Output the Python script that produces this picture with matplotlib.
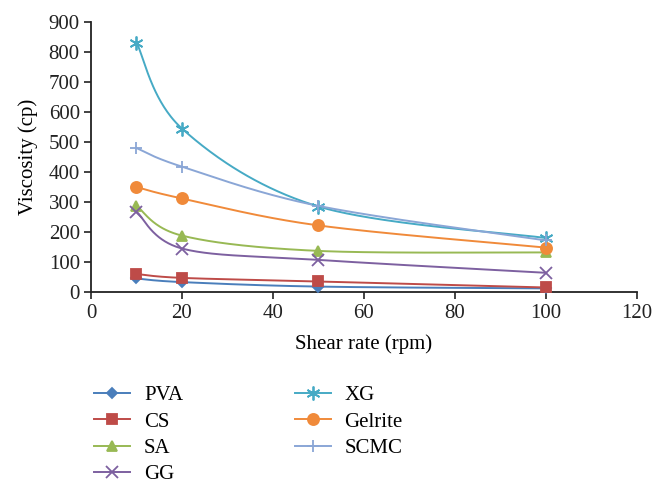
import numpy as np
import matplotlib
matplotlib.use("Agg")
import matplotlib.pyplot as plt
from matplotlib.lines import Line2D

plt.rcParams['font.family'] = ['Liberation Serif', 'DejaVu Serif']

shear = [10, 20, 50, 100]
series_names = ["PVA", "CS", "SA", "GG", "XG", "Gelrite", "SCMC"]
pva = [45, 33, 18, 12]
cs = [60, 47, 35, 15]
sa = [287, 188, 137, 132]
gg = [268, 145, 107, 64]
xg = [832, 545, 285, 180]
gelrite = [350, 312, 222, 148]
scmc = [480, 418, 287, 172]
values = [pva, cs, sa, gg, xg, gelrite, scmc]

colors = ["#4A7EBB", "#BE4B48", "#98B954", "#7D60A0", "#46AAC5", "#F08A3A", "#8AA6D6"]
markers = ["D", "s", "^", "x", (6, 2, 0), "o", "+"]
msizes = [5, 7, 7, 8, 10, 8, 9]

def smooth(xs, ys, n=60):
    pts = np.column_stack([xs, ys]).astype(float)
    ext = np.vstack([pts[0], pts, pts[-1]])
    out = []
    for i in range(len(pts) - 1):
        p0, p1, p2, p3 = ext[i], ext[i + 1], ext[i + 2], ext[i + 3]
        c1 = p1 + (p2 - p0) / 6.0
        c2 = p2 - (p3 - p1) / 6.0
        t = np.linspace(0, 1, n)[:, None]
        seg = ((1 - t) ** 3) * p1 + 3 * ((1 - t) ** 2) * t * c1 + 3 * (1 - t) * t ** 2 * c2 + t ** 3 * p2
        out.append(seg if i == 0 else seg[1:])
    arr = np.vstack(out)
    return arr[:, 0], arr[:, 1]

fig = plt.figure(figsize=(6.66, 4.97), dpi=100)
ax = fig.add_axes([0.1366, 0.4125, 0.8198, 0.543])

handles = []
for name, vals, c, m, ms in zip(series_names, values, colors, markers, msizes):
    sx, sy = smooth(shear, vals)
    ax.plot(sx, sy, color=c, lw=1.4, zorder=2)
    ax.plot(shear, vals, linestyle='none', marker=m, markersize=ms, color=c,
            markeredgecolor=c, markeredgewidth=1.3, zorder=3, clip_on=False)
    handles.append(Line2D([], [], color=c, lw=1.4, marker=m, markersize=ms,
                          markeredgecolor=c, markeredgewidth=1.3, label=name))

ax.set_xlim(0, 120)
ax.set_ylim(0, 900)
ax.set_xticks(np.arange(0, 121, 20))
ax.set_yticks(np.arange(0, 901, 100))
for s in ['top', 'right']:
    ax.spines[s].set_visible(False)
for s in ['left', 'bottom']:
    ax.spines[s].set_linewidth(1.3)
    ax.spines[s].set_color('#222222')
ax.tick_params(direction='out', length=5, width=1.2, labelsize=15, colors='#222222')
ax.tick_params(axis='x', pad=4)
ax.tick_params(axis='y', pad=3)
ax.set_xlabel("Shear rate (rpm)", fontsize=15, labelpad=8)
ax.set_ylabel("Viscosity (cp)", fontsize=15, labelpad=8)

fig.legend(handles=handles, ncol=2, loc='upper left', bbox_to_anchor=(0.113, 0.262),
           frameon=False, fontsize=15, handlelength=1.75, handletextpad=0.65,
           columnspacing=5.35, labelspacing=0.33)

fig.savefig("out.png", dpi=100)
